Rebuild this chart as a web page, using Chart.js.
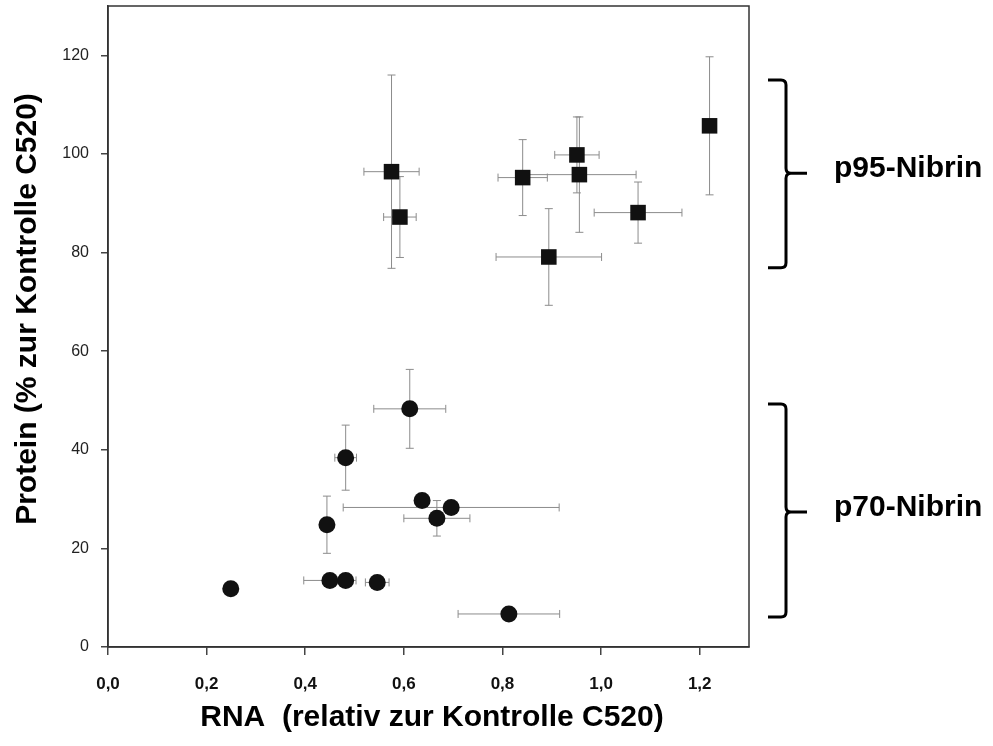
<!DOCTYPE html>
<html>
<head>
<meta charset="utf-8">
<script src="https://cdn.jsdelivr.net/npm/chart.js@4"></script>
<style>
  body { margin: 0; background: #fff; }
  canvas { display: block; }
</style>
</head>
<body>
<canvas id="chart" width="993" height="746"></canvas>
<script>
// p95-Nibrin (squares)
const p95X = [0.575, 0.592, 0.841, 0.951, 0.956, 1.075, 0.894, 1.220];
const p95Y = [96.4, 87.2, 95.2, 99.8, 95.8, 88.1, 79.1, 105.7];
const p95XErr = [0.056, 0.033, 0.050, 0.045, 0.115, 0.089, 0.107, 0];
const p95YErr = [19.6, 8.2, 7.7, 7.7, 11.7, 6.2, 9.8, 14.0];

// p70-Nibrin (circles)
const p70X = [0.612, 0.482, 0.444, 0.637, 0.696, 0.667, 0.249, 0.450, 0.482, 0.546, 0.813];
const p70Y = [48.3, 38.4, 24.8, 29.7, 28.3, 26.1, 11.8, 13.5, 13.5, 13.1, 6.7];
const p70XErr = [0.073, 0.022, 0, 0, 0.219, 0.067, 0, 0.053, 0, 0.024, 0.103];
const p70YErr = [8.0, 6.6, 5.8, 0, 0, 3.6, 0, 0, 0, 0, 0];

const xTicks = [0, 0.2, 0.4, 0.6, 0.8, 1.0, 1.2];
const yTicks = [0, 20, 40, 60, 80, 100, 120];

// brace groups on the right
const groupLabels = ['p95-Nibrin', 'p70-Nibrin'];
const groupTop = [115.0, 49.3];
const groupBottom = [76.9, 6.1];
const groupMid = [96.1, 27.4];

const FONT = "'Liberation Sans', Arial, sans-serif";

function toPoints(xs, ys, xe, ye) {
  return xs.map((x, i) => ({ x: x, y: ys[i], xErr: xe[i], yErr: ye[i] }));
}

const errorBars = {
  id: 'errorBars',
  beforeDatasetsDraw(chart) {
    const { ctx, scales: { x, y } } = chart;
    ctx.save();
    ctx.strokeStyle = '#8c8c8c';
    ctx.lineWidth = 1;
    const cap = 4;
    chart.data.datasets.forEach(ds => {
      ds.data.forEach(p => {
        const px = x.getPixelForValue(p.x);
        const py = y.getPixelForValue(p.y);
        ctx.beginPath();
        if (p.yErr) {
          const t = y.getPixelForValue(p.y + p.yErr);
          const b = y.getPixelForValue(p.y - p.yErr);
          ctx.moveTo(px, t); ctx.lineTo(px, b);
          ctx.moveTo(px - cap, t); ctx.lineTo(px + cap, t);
          ctx.moveTo(px - cap, b); ctx.lineTo(px + cap, b);
        }
        if (p.xErr) {
          const l = x.getPixelForValue(p.x - p.xErr);
          const r = x.getPixelForValue(p.x + p.xErr);
          ctx.moveTo(l, py); ctx.lineTo(r, py);
          ctx.moveTo(l, py - cap); ctx.lineTo(l, py + cap);
          ctx.moveTo(r, py - cap); ctx.lineTo(r, py + cap);
        }
        ctx.stroke();
      });
    });
    // frame round the plot
    const a = chart.chartArea;
    ctx.strokeStyle = '#333';
    ctx.lineWidth = 1.5;
    ctx.strokeRect(a.left, a.top, a.right - a.left, a.bottom - a.top);
    ctx.restore();
  }
};

function drawBrace(ctx, x0, yTop, yBot, yTip) {
  ctx.beginPath();
  ctx.moveTo(x0 - 18, yTop);
  ctx.lineTo(x0 - 5, yTop);
  ctx.quadraticCurveTo(x0, yTop, x0, yTop + 5);
  ctx.lineTo(x0, yTip - 5);
  ctx.quadraticCurveTo(x0, yTip, x0 + 5, yTip);
  ctx.lineTo(x0 + 21, yTip);
  ctx.moveTo(x0 + 5, yTip);
  ctx.quadraticCurveTo(x0, yTip, x0, yTip + 5);
  ctx.lineTo(x0, yBot - 5);
  ctx.quadraticCurveTo(x0, yBot, x0 - 5, yBot);
  ctx.lineTo(x0 - 18, yBot);
  ctx.stroke();
}

const annotations = {
  id: 'annotations',
  afterDraw(chart) {
    const { ctx, chartArea: a, scales: { y } } = chart;
    ctx.save();
    ctx.fillStyle = '#000';
    ctx.strokeStyle = '#000';
    ctx.lineWidth = 3;
    ctx.lineCap = 'butt';
    groupLabels.forEach((label, i) => {
      const yTip = y.getPixelForValue(groupMid[i]);
      drawBrace(ctx, a.right + 37, y.getPixelForValue(groupTop[i]), y.getPixelForValue(groupBottom[i]), yTip);
      ctx.font = 'bold 30px ' + FONT;
      ctx.textAlign = 'left';
      ctx.textBaseline = 'middle';
      ctx.fillText(label, a.right + 85, yTip - 4);
    });

    // axis titles
    ctx.font = 'bold 30px ' + FONT;
    ctx.textAlign = 'center';
    ctx.textBaseline = 'middle';
    ctx.fillText('RNA  (relativ zur Kontrolle C520)', 432, 718);
    ctx.translate(28, 309);
    ctx.rotate(-Math.PI / 2);
    ctx.fillText('Protein (% zur Kontrolle C520)', 0, 0);
    ctx.restore();
  }
};

const ctx = document.getElementById('chart').getContext('2d');
const chart = new Chart(ctx, {
  type: 'scatter',
  data: {
    datasets: [
      {
        label: 'p95-Nibrin',
        data: toPoints(p95X, p95Y, p95XErr, p95YErr),
        pointStyle: 'rect',
        pointRadius: 11,
        pointHoverRadius: 11,
        backgroundColor: '#111',
        borderColor: '#111',
        borderWidth: 0
      },
      {
        label: 'p70-Nibrin',
        data: toPoints(p70X, p70Y, p70XErr, p70YErr),
        pointStyle: 'circle',
        pointRadius: 8.5,
        pointHoverRadius: 8.5,
        backgroundColor: '#111',
        borderColor: '#111',
        borderWidth: 0
      }
    ]
  },
  options: {
    responsive: false,
    animation: false,
    layout: { autoPadding: false, padding: { top: 6, right: 244, left: 0, bottom: 0 } },
    plugins: {
      legend: { display: false },
      tooltip: { enabled: false }
    },
    scales: {
      x: {
        type: 'linear',
        min: 0,
        max: 1.3,
        afterBuildTicks: s => { s.ticks = xTicks.map(v => ({ value: v })); },
        afterFit: s => { s.height = 99; s.paddingLeft = 0; s.paddingRight = 0; },
        grid: { drawOnChartArea: false, tickLength: 8, color: '#444', lineWidth: 1.5 },
        border: { color: '#333', width: 1.5 },
        ticks: {
          padding: 19,
          color: '#111',
          font: { family: FONT, size: 17, weight: 'bold' },
          callback: v => v.toFixed(1).replace('.', ',')
        }
      },
      y: {
        type: 'linear',
        min: 0,
        max: 130,
        afterBuildTicks: s => { s.ticks = yTicks.map(v => ({ value: v })); },
        afterFit: s => { s.width = 108; s.paddingTop = 0; s.paddingBottom = 0; },
        grid: { drawOnChartArea: false, tickLength: 7, color: '#444', lineWidth: 1.5 },
        border: { color: '#333', width: 1.5 },
        ticks: {
          padding: 12,
          color: '#222',
          font: { family: FONT, size: 16 },
          callback: v => String(v)
        }
      }
    }
  },
  plugins: [errorBars, annotations]
});
</script>
</body>
</html>
